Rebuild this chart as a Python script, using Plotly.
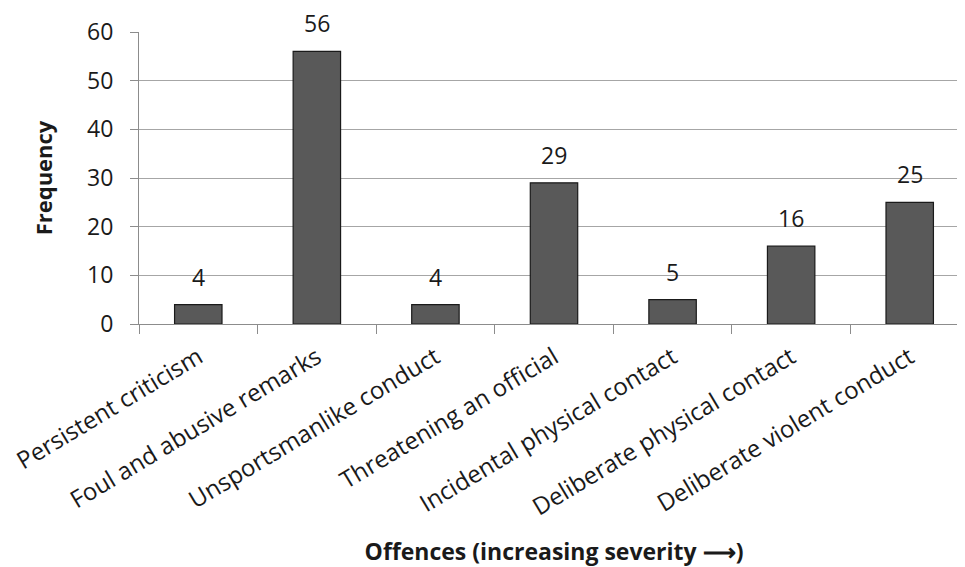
import plotly.graph_objects as go

categories = [
    "Persistent criticism",
    "Foul and abusive remarks",
    "Unsportsmanlike conduct",
    "Threatening an official",
    "Incidental physical contact",
    "Deliberate physical contact",
    "Deliberate violent conduct",
]
frequency = [4, 56, 4, 29, 5, 16, 25]
y_ticks = [0, 10, 20, 30, 40, 50, 60]

FONT = "'Open Sans', sans-serif"
TXT = "#1a1a1a"

fig = go.Figure()
fig.add_trace(go.Bar(
    x=categories, y=frequency,
    width=0.4,
    marker=dict(color="#595959", line=dict(color="#1a1a1a", width=1.2)),
    showlegend=False,
    hoverinfo="x+y",
))

for c, v in zip(categories, frequency):
    fig.add_annotation(x=c, y=v, text=str(v), showarrow=False,
                       yshift=28, font=dict(family=FONT, size=23, color=TXT))

fig.update_layout(
    width=965, height=567,
    margin=dict(l=131, r=4, t=24, b=251),
    paper_bgcolor="white", plot_bgcolor="white",
    font=dict(family=FONT, size=23, color=TXT),
    bargap=0.6,
)
fig.update_xaxes(
    type="category",
    automargin=False,
    tickangle=-31,
    tickfont=dict(family=FONT, size=24, color=TXT),
    ticks="outside", ticklen=9, tickcolor="#8c8c8c", tickson="boundaries",
    ticklabelstandoff=9,
    showline=True, linecolor="#8c8c8c", linewidth=1,
    showgrid=False,
    title=dict(text="<b>Offences (increasing severity ⟶)</b>",
               font=dict(family=FONT, size=23, color=TXT), standoff=22),
    range=[-0.5, 6.5],
)
fig.update_yaxes(
    range=[0, 60],
    automargin=False,
    tickvals=y_ticks,
    tickfont=dict(family=FONT, size=23, color=TXT),
    ticks="outside", ticklen=8, tickcolor="#8c8c8c",
    ticklabelstandoff=12,
    showline=True, linecolor="#8c8c8c", linewidth=1,
    showgrid=True, gridcolor="#a6a6a6", gridwidth=1,
    zeroline=False,
    title=dict(text="<b>Frequency</b>",
               font=dict(family=FONT, size=22, color=TXT), standoff=28),
)

fig.write_html("out.html")
